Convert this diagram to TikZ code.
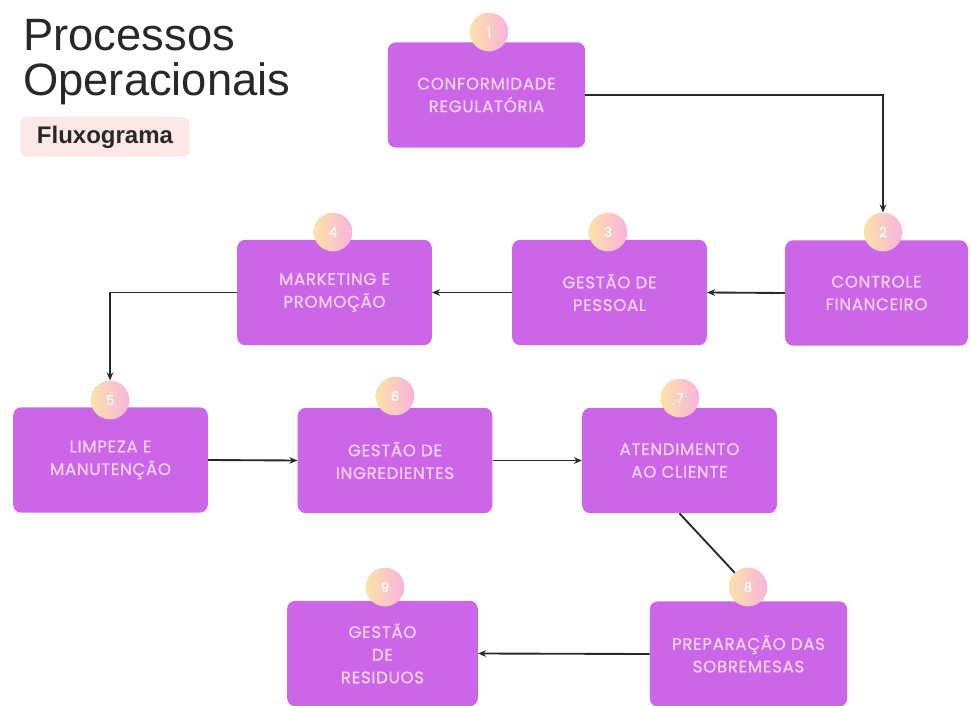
\documentclass[tikz,border=0pt]{standalone}
\usepackage{fontspec}
\setmainfont{Liberation Sans}
\newfontfamily\etapafont[LetterSpace=4,FakeBold=0.6]{Poppins}
\usetikzlibrary{arrows.meta,calc,positioning}
\definecolor{flpurple}{RGB}{204,102,232}
\definecolor{fltext}{RGB}{248,212,244}
\definecolor{flyellow}{RGB}{252,226,168}
\definecolor{flrose}{RGB}{248,180,222}
\definecolor{fldark}{RGB}{40,40,40}
\definecolor{flpill}{RGB}{253,232,232}

\begin{document}
\begin{tikzpicture}[
  x=0.75pt, y=-0.75pt,
  etapa/.style={fill=flpurple, rounded corners=6pt,
    minimum width=146pt, minimum height=79pt, align=center,
    text=fltext, font=\etapafont\fontsize{12.5}{17}\selectfont},
  num/.style={circle, minimum size=29pt, inner sep=0pt,
    left color=flyellow, right color=flrose, text=white,
    font=\etapafont\fontsize{10}{10}\selectfont},
  arr/.style={-{Stealth[length=6pt,width=5pt]}, draw=fldark, line width=1.4pt},
  lin/.style={draw=fldark, line width=1.4pt}
]
  \useasboundingbox (0,0) rectangle (971,706);

  % titulo
  \node[anchor=base west, inner sep=0pt, font=\fontsize{34}{38}\selectfont,
    text=fldark] (tit1) at (23,51) {Processos};
  \node[anchor=base west, inner sep=0pt, font=\fontsize{34}{38}\selectfont,
    text=fldark] (tit2) at (23,96) {Operacionais};
  \node[fill=flpill, rounded corners=5pt, minimum width=127pt,
    minimum height=30pt, font=\bfseries\fontsize{18}{18}\selectfont,
    text=fldark] (sub) at (105,137) {Fluxograma};

  % etapas
  \node[etapa, minimum width=148pt] (b1) at (486.5,95) {CONFORMIDADE\\REGULATÓRIA};
  \node[etapa, minimum width=137pt] (b2) at (876.5,293) {CONTROLE\\FINANCEIRO};
  \node[etapa] (b3) at (609.5,292.5) {GESTÃO DE\\PESSOAL};
  \node[etapa] (b4) at (334.5,292.5) {MARKETING E\\PROMOÇÃO};
  \node[etapa] (b5) at (110.5,460) {LIMPEZA E\\MANUTENÇÃO};
  \node[etapa] (b6) at (395,460.5) {GESTÃO DE\\INGREDIENTES};
  \node[etapa] (b7) at (679.5,460.5) {ATENDIMENTO\\AO CLIENTE};
  \node[etapa, minimum width=148pt] (b8) at (748.5,654) {PREPARAÇÃO DAS\\SOBREMESAS};
  \node[etapa, minimum width=143pt] (b9) at (382.5,653.5) {GESTÃO\\DE\\RESIDUOS};

  % numeros
  \node[num] (c1) at (489,32) {1};
  \node[num] (c2) at (883,232) {2};
  \node[num] (c3) at (608,232) {3};
  \node[num] (c4) at (333,232) {4};
  \node[num] (c5) at (110,400) {5};
  \node[num] (c6) at (395,396) {6};
  \node[num] (c7) at (680,398) {7};
  \node[num] (c8) at (748,587) {8};
  \node[num] (c9) at (385,587) {9};

  % ligacoes
  \draw[arr] (b1.east) -| (c2.north);
  \draw[arr] (b2.west) -- (b3.east);
  \draw[arr] (b3.west) -- (b4.east);
  \draw[arr] (b4.west) -| (c5.north);
  \draw[arr] (b5.east) -- (b6.west);
  \draw[arr] (b6.east) -- (b7.west);
  \draw[lin] (b7.south) -- (c8);
  \draw[arr] (b8.west) -- (b9.east);
\end{tikzpicture}
\end{document}
